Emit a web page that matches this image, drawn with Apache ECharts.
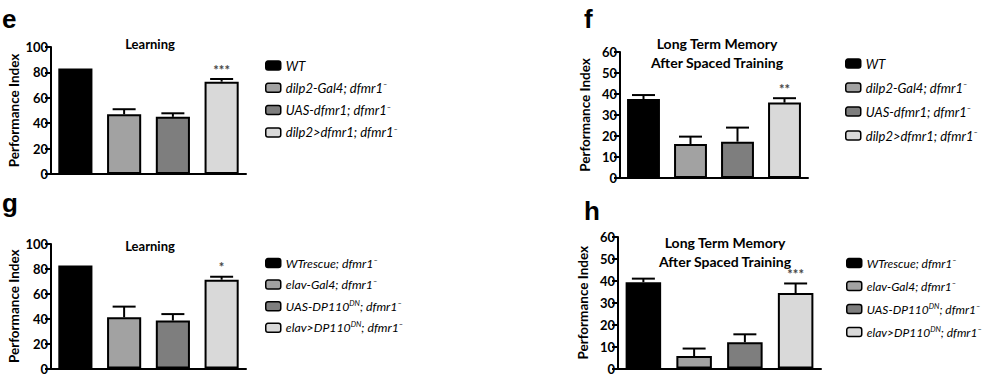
<!DOCTYPE html>
<html><head><meta charset="utf-8">
<script src="https://cdn.jsdelivr.net/npm/echarts@6/dist/echarts.min.js"></script>
<style>html,body{margin:0;padding:0;background:#fff}#c{width:987px;height:375px}</style>
</head><body><div id="c"></div>
<script>
// ---- data ----
const categories = ['1', '2', '3', '4'];
const topNames = ['WT', 'dilp2-Gal4; dfmr1-', 'UAS-dfmr1; dfmr1-', 'dilp2>dfmr1; dfmr1-'];
const botNames = ['WTrescue; dfmr1-', 'elav-Gal4; dfmr1-', 'UAS-DP110DN; dfmr1-', 'elav>DP110DN; dfmr1-'];
const topLabels = ['{i|WT}', '{i|dilp2-Gal4; dfmr1}{s|\u2013}', '{i|UAS-dfmr1; dfmr1}{s|\u2013}', '{i|dilp2>dfmr1; dfmr1}{s|\u2013}'];
const botLabels = ['{i|WTrescue; dfmr1}{s|\u2013}', '{i|elav-Gal4; dfmr1}{s|\u2013}', '{i|UAS-DP110}{s|DN}{i|; dfmr1}{s|\u2013}', '{i|elav>DP110}{s|DN}{i|; dfmr1}{s|\u2013}'];
const panelLetters = ['e', 'f', 'g', 'h'];
const panelTitles = ['Learning', 'Long Term Memory\nAfter Spaced Training', 'Learning', 'Long Term Memory\nAfter Spaced Training'];
const yMax = [100, 60, 100, 60];
const yInterval = [20, 10, 20, 10];
const eMean = [83, 47, 45, 72.7];
const eSem = [0, 4, 2.8, 2.1];
const eStars = ['', '', '', '***'];
const fMean = [37.6, 16.2, 17.3, 35.9];
const fSem = [1.9, 3.5, 6.7, 2.1];
const fStars = ['', '', '', '**'];
const gMean = [82.8, 41.1, 38.5, 71.3];
const gSem = [0, 8.6, 5.2, 2.4];
const gStars = ['', '', '', '*'];
const hMean = [39.4, 5.7, 12, 34.4];
const hSem = [1.6, 3.4, 3.6, 4.4];
const hStars = ['', '', '', '***'];
const barColors = ['#000000', '#a2a2a2', '#7e7e7e', '#d9d9d9'];

// ---- layout ----
const FONT = 'Lato';
const grids = [
  {left: 51, top: 47, width: 195, height: 127},
  {left: 620, top: 52, width: 188, height: 126},
  {left: 51, top: 244, width: 195, height: 128},
  {left: 618, top: 237, width: 203, height: 134}
];
const means = [eMean, fMean, gMean, hMean];
const sems = [eSem, fSem, gSem, hSem];
const stars = [eStars, fStars, gStars, hStars];
const namesFor = [topNames, topNames, botNames, botNames];

const xAxis = [], yAxis = [], series = [];
grids.forEach((g, p) => {
  xAxis.push({type: 'category', gridIndex: p, data: categories,
    axisLine: {lineStyle: {color: '#000', width: 2}}, axisTick: {show: false}, axisLabel: {show: false}});
  yAxis.push({type: 'value', gridIndex: p, min: 0, max: yMax[p], interval: yInterval[p],
    name: 'Performance Index', nameLocation: 'middle', nameRotate: 90, nameGap: 28,
    nameTextStyle: {fontFamily: FONT, fontWeight: 'bold', fontSize: 13.5, color: '#000'},
    axisLine: {show: true, lineStyle: {color: '#000', width: 2}},
    axisTick: {show: true, length: 6, lineStyle: {color: '#000', width: 2}},
    axisLabel: {fontFamily: FONT, fontWeight: 'bold', fontSize: 13, color: '#000', margin: 3},
    splitLine: {show: false}});
  namesFor[p].forEach((nm, k) => {
    series.push({type: 'bar', name: nm, xAxisIndex: p, yAxisIndex: p,
      barWidth: '70%', barGap: '-100%',
      data: categories.map((c, j) => j === k ? means[p][j] : '-'),
      itemStyle: {color: barColors[k], borderColor: '#000', borderWidth: 2},
      emphasis: {disabled: true}, animation: false});
  });
  const st = stars[p];
  series.push({type: 'custom', xAxisIndex: p, yAxisIndex: p, z: 5, animation: false,
    data: categories.map((c, j) => [j, means[p][j], means[p][j] + sems[p][j]]),
    renderItem: function (params, api) {
      const base = api.coord([api.value(0), api.value(1)]);
      const top = api.coord([api.value(0), api.value(2)]);
      const children = [];
      if (api.value(2) > api.value(1)) {
        children.push({type: 'line', shape: {x1: base[0], y1: base[1], x2: top[0], y2: top[1]}, style: {stroke: '#000', lineWidth: 2}});
        children.push({type: 'line', shape: {x1: top[0] - 11.5, y1: top[1], x2: top[0] + 11.5, y2: top[1]}, style: {stroke: '#000', lineWidth: 2}});
      }
      const s = st[params.dataIndex];
      if (s) {
        children.push({type: 'text', x: top[0], y: top[1] - 3, style: {text: s, fill: '#444', font: 'bold 13px ' + FONT, textAlign: 'center', textVerticalAlign: 'bottom'}});
      }
      return {type: 'group', children: children};
    }});
});

const legendPos = [
  {left: 260, top: 54, gap: 8.8, fs: 13},
  {left: 840, top: 52, gap: 10.5, fs: 13},
  {left: 260, top: 251, gap: 8.6, fs: 12.3},
  {left: 841, top: 251, gap: 10, fs: 12}
];
const labelsFor = [topLabels, topLabels, botLabels, botLabels];
const legend = legendPos.map((lp, p) => ({
  orient: 'vertical', left: lp.left, top: lp.top, itemGap: lp.gap,
  itemWidth: 15, itemHeight: 9, selectedMode: false,
  data: namesFor[p],
  itemStyle: {borderColor: '#000', borderWidth: 1.5},
  formatter: function (name) { return labelsFor[p][namesFor[p].indexOf(name)]; },
  textStyle: {color: '#000', rich: {
    i: {fontFamily: FONT, fontStyle: 'italic', fontSize: lp.fs, lineHeight: 14, color: '#000'},
    s: {fontFamily: FONT, fontStyle: 'italic', fontSize: 7.5, lineHeight: 8, verticalAlign: 'top', color: '#000'}
  }}
}));

const letterPos = [[2, 19], [584, 19], [2, 203], [584, 211]];
const titlePos = [[150, 43], [717, 43], [150, 245], [725, 242]];
const titleSize = [13, 14, 13, 14];
const graphic = [];
panelLetters.forEach((l, p) => {
  graphic.push({type: 'text', x: letterPos[p][0], y: letterPos[p][1], style: {text: l, font: 'bold 26px "Liberation Sans"', fill: '#000', textVerticalAlign: 'middle'}});
  graphic.push({type: 'text', x: titlePos[p][0], y: titlePos[p][1] - 9, style: {text: panelTitles[p], font: 'bold ' + titleSize[p] + 'px ' + FONT, lineHeight: 19, fill: '#000', textAlign: 'center', textVerticalAlign: 'top'}});
});

const chart = echarts.init(document.getElementById('c'), null, {renderer: 'svg'});
chart.setOption({animation: false, backgroundColor: '#fff', grid: grids, xAxis, yAxis, series, legend, graphic});
</script></body></html>
